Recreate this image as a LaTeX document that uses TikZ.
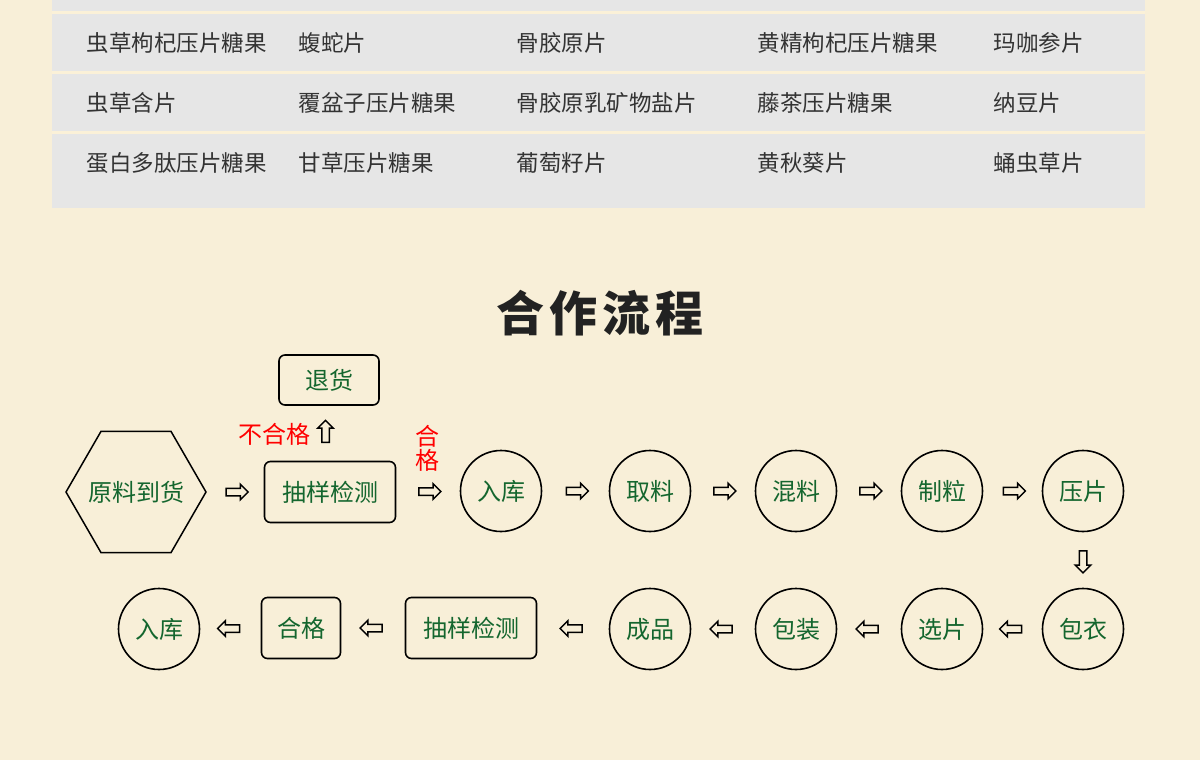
\documentclass[tikz,border=0pt]{standalone}
\usepackage{fontspec}
\newfontfamily\cjk{Noto Sans CJK SC}
\usetikzlibrary{shapes,shapes.geometric,shapes.arrows,positioning,calc}
\definecolor{bgc}{HTML}{F8EFD8}
\definecolor{rowc}{HTML}{E6E6E6}
\definecolor{sepc}{HTML}{FBF1D8}
\definecolor{txtc}{HTML}{333333}
\definecolor{ttlc}{HTML}{222222}
\definecolor{grn}{HTML}{14662E}

\begin{document}
\begin{tikzpicture}
[x=1pt,y=-1pt, line width=1.6pt,
cell/.style={anchor=west,inner sep=0pt,text=txtc,font=\cjk\fontsize{22.5}{22.5}\selectfont},
circ/.style={circle,draw,minimum size=81pt,inner sep=0pt,text=grn,font=\cjk\fontsize{24}{24}\selectfont},
box/.style={rectangle,rounded corners=6pt,draw,minimum height=61pt,inner sep=0pt,text=grn,font=\cjk\fontsize{24}{24}\selectfont},
hex/.style={regular polygon,regular polygon sides=6,draw,line width=1.5pt,minimum size=140pt,inner sep=0pt,text=grn,font=\cjk\fontsize{24}{24}\selectfont},
redlbl/.style={inner sep=0pt,text=red,font=\cjk\fontsize{24}{24}\selectfont},
harrow/.style={single arrow,draw,line width=1.5pt,inner sep=3pt,minimum height=22pt,single arrow head extend=4pt,single arrow head indent=0pt},
rarrow/.style={harrow},
larrow/.style={harrow,shape border rotate=180},
uarrow/.style={harrow,shape border rotate=90},
darrow/.style={harrow,shape border rotate=270}]

% background and table
\fill[bgc] (0,0) rectangle (1200,760);
\fill[rowc] (52,0) rectangle (1145,208);
\foreach \y in {12.5,72.5,132.5}
  \draw[sepc,line width=2.5pt] (52,\y) -- (1145,\y);

\foreach \x/\t [count=\c] in {86/虫草枸杞压片糖果,298/蝮蛇片,516/骨胶原片,757/黄精枸杞压片糖果,993/玛咖参片}
  \node[cell] (r1c\c) at (\x,43) {\t};
\foreach \x/\t [count=\c] in {86/虫草含片,298/覆盆子压片糖果,516/骨胶原乳矿物盐片,757/藤茶压片糖果,993/纳豆片}
  \node[cell] (r2c\c) at (\x,103) {\t};
\foreach \x/\t [count=\c] in {86/蛋白多肽压片糖果,298/甘草压片糖果,516/葡萄籽片,757/黄秋葵片,993/蛹虫草片}
  \node[cell] (r3c\c) at (\x,163) {\t};

% title
\node[text=ttlc,font=\cjk\bfseries\fontsize{48}{48}\selectfont] (title) at (600,313)
  {合\hspace{5pt}作\hspace{5pt}流\hspace{5pt}程};

% first row
\node[hex] (raw) at (136,492) {\makebox[0pt]{原料到货}};
\node[box,minimum width=131pt] (chk) at (330,492) {抽样检测};
\node[box,minimum width=100pt,minimum height=50pt] (ret) at (329,380) {退货};
\node[circ] (in1) at (501,491) {入库};
\node[circ] (take) at (650,491) {取料};
\node[circ] (mix) at (796,491) {混料};
\node[circ] (gran) at (942,491) {制粒};
\node[circ] (press) at (1083,491) {压片};

% second row
\node[circ] (coat) at (1083,629) {包衣};
\node[circ] (pick) at (942,629) {选片};
\node[circ] (pack) at (796,629) {包装};
\node[circ] (prod) at (650,629) {成品};
\node[box,minimum width=131pt] (chk2) at (471,628) {抽样检测};
\node[box,minimum width=79pt] (ok) at (301,628) {合格};
\node[circ] (in2) at (159,629) {入库};

% block arrows
\node[rarrow] (a1) at ($(raw.east)!0.5!(chk.west)$) {};
\node[rarrow] (a2) at ($(chk.east)!0.5!(in1.west)$) {};
\node[rarrow] (a3) at ($(in1.east)!0.5!(take.west)$) {};
\node[rarrow] (a4) at ($(take.east)!0.5!(mix.west)$) {};
\node[rarrow] (a5) at ($(mix.east)!0.5!(gran.west)$) {};
\node[rarrow] (a6) at ($(gran.east)!0.5!(press.west)$) {};
\node[darrow] (a7) at ($(press.south)!0.5!(coat.north)$) {};
\node[larrow] (a8) at ($(coat.west)!0.5!(pick.east)$) {};
\node[larrow] (a9) at ($(pick.west)!0.5!(pack.east)$) {};
\node[larrow] (a10) at ($(pack.west)!0.5!(prod.east)$) {};
\node[larrow] (a11) at ($(prod.west)!0.5!(chk2.east)$) {};
\node[larrow] (a12) at ($(chk2.west)!0.5!(ok.east)$) {};
\node[larrow] (a13) at ($(ok.west)!0.5!(in2.east)$) {};
\node[uarrow] (up) at ($(chk.north)!0.5!(ret.south)+(-4,0)$) {};

% labels
\node[redlbl] (bad) at (274,434) {不合格};
\node[redlbl,align=center] (good) at (427,448) {合\\格};

\end{tikzpicture}
\end{document}
